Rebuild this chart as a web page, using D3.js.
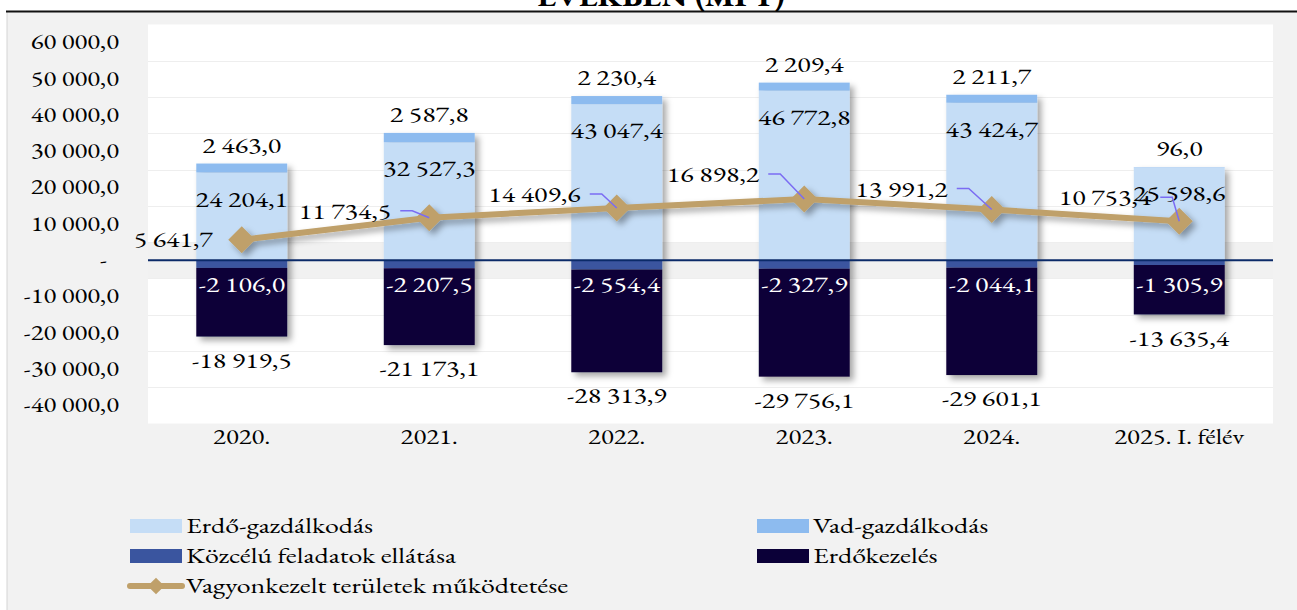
<!DOCTYPE html>
<html>
<head>
<meta charset="utf-8">
<script src="https://cdn.jsdelivr.net/npm/d3@7"></script>
</head>
<body style="margin:0; background:#fff">
<div id="chart"></div>
<script>
// chart data
const categories = ["2020.", "2021.", "2022.", "2023.", "2024.", "2025. I. félév"];
const erdoGazdalkodas = [24204.1, 32527.3, 43047.4, 46772.8, 43424.7, 25598.6];
const vadGazdalkodas = [2463.0, 2587.8, 2230.4, 2209.4, 2211.7, 96.0];
const kozceluFeladatok = [-2106.0, -2207.5, -2554.4, -2327.9, -2044.1, -1305.9];
const erdokezeles = [-18919.5, -21173.1, -28313.9, -29756.1, -29601.1, -13635.4];
const vagyonkezelt = [5641.7, 11734.5, 14409.6, 16898.2, 13991.2, 10753.4];
const yTickValues = [-40000, -30000, -20000, -10000, 0, 10000, 20000, 30000, 40000, 50000, 60000];

const seriesNames = ["Erdő-gazdálkodás", "Vad-gazdálkodás", "Közcélú feladatok ellátása", "Erdőkezelés"];
const lineName = "Vagyonkezelt területek működtetése";

// label nudges for the line labels (moved by hand in the original)
const lineLabelOffset = [[-29, 0], [-38, -6], [-36, -13], [-45, -24], [-44, -20], [-28, -23]];

const W = 1297, H = 610;
const FONT = '"EB Garamond", "Liberation Serif", serif';
const FS = 21;      // axis labels
const FS_LBL = 22;  // data labels + legend
const SX = 1.27;    // reference text is rendered wide
const colors = {
  "Erdő-gazdálkodás": "#c5ddf6",
  "Vad-gazdálkodás": "#8dbbef",
  "Közcélú feladatok ellátása": "#3a559f",
  "Erdőkezelés": "#0b0038"
};
const lineColor = "#bfa06a";
const leaderColor = "#7b6cf3";

const locale = d3.formatLocale({decimal: ",", thousands: "\u00a0", grouping: [3], currency: ["", ""], minus: "-"});
const fmt = locale.format(",.1f");

let svg = d3.select("#chart").append("svg")
  .attr("width", W).attr("height", H)
  .attr("font-family", FONT);

let defs = svg.append("defs");
let f = defs.append("filter").attr("id", "shadow")
  .attr("x", "-20%").attr("y", "-20%").attr("width", "150%").attr("height", "150%");
f.append("feDropShadow").attr("dx", 4).attr("dy", 4).attr("stdDeviation", 3)
  .attr("flood-color", "#000").attr("flood-opacity", 0.35);

// chart background + borders
svg.append("rect").attr("x", 7).attr("y", 11).attr("width", W - 7).attr("height", H - 11)
  .attr("fill", "#f2f2f2");
svg.append("line").attr("x1", 7).attr("x2", 7).attr("y1", 11).attr("y2", H)
  .attr("stroke", "#d4d4d4");
svg.append("line").attr("x1", 6).attr("x2", W).attr("y1", 11.5).attr("y2", 11.5)
  .attr("stroke", "#111").attr("stroke-width", 2);

// title (cut off at the top)
svg.append("text")
  .attr("transform", `translate(661,6) scale(1.2,1)`)
  .attr("text-anchor", "middle")
  .attr("font-family", FONT)
  .attr("font-size", 27).attr("font-weight", "bold")
  .text("ÉVEKBEN (MFT)");

// scales
const plot = {left: 148, right: 1273, top: 24.5, bottom: 423.5};
let x = d3.scaleBand()
  .domain(categories)
  .range([plot.left, plot.right])
  .paddingInner(0.515).paddingOuter(0.2575);
let y = d3.scaleLinear()
  .domain([-45000, 65000])
  .range([plot.bottom, plot.top]);

// plot area
svg.append("rect").attr("x", plot.left).attr("y", plot.top)
  .attr("width", plot.right - plot.left).attr("height", plot.bottom - plot.top)
  .attr("fill", "#fff");
svg.append("rect").attr("x", plot.left).attr("y", y(5000))
  .attr("width", plot.right - plot.left).attr("height", y(-5000) - y(5000))
  .attr("fill", "#f1f1f1");
svg.append("g").selectAll("line")
  .data(yTickValues.filter(v => v !== 0).map(v => v > 0 ? v - 5000 : v + 5000).concat([55000, -35000]))
  .join("line")
  .attr("x1", plot.left).attr("x2", plot.right)
  .attr("y1", d => Math.round(y(d)) + 0.5).attr("y2", d => Math.round(y(d)) + 0.5)
  .attr("stroke", "#eeeeee");

// y axis labels
let yAxis = svg.append("g")
  .attr("transform", "translate(119,0)")
  .call(d3.axisLeft(y).tickValues(yTickValues).tickSize(0)
    .tickFormat(d => d === 0 ? "-" : fmt(d)));
yAxis.select(".domain").remove();
yAxis.attr("font-family", FONT);
yAxis.selectAll("text")
  .attr("font-family", FONT)
  .attr("font-size", FS).attr("fill", "#000")
  .attr("x", 0).attr("dy", "0.32em")
  .attr("transform", d => `translate(${d === 0 ? -12 : 0},${y(d)}) scale(${SX},1)`);
yAxis.selectAll(".tick").attr("transform", null);

// x axis labels
let xAxis = svg.append("g")
  .attr("transform", "translate(0,437)")
  .call(d3.axisBottom(x).tickSize(0));
xAxis.select(".domain").remove();
xAxis.attr("font-family", FONT);
xAxis.selectAll("text")
  .attr("font-family", FONT)
  .attr("font-size", FS).attr("fill", "#000")
  .attr("y", 0).attr("dy", "0.32em")
  .attr("transform", `scale(${SX},1)`);

// stacked bars
const table = categories.map((c, i) => ({
  cat: c,
  "Erdő-gazdálkodás": erdoGazdalkodas[i],
  "Vad-gazdálkodás": vadGazdalkodas[i],
  "Közcélú feladatok ellátása": kozceluFeladatok[i],
  "Erdőkezelés": erdokezeles[i]
}));
let stack = d3.stack().keys(seriesNames).offset(d3.stackOffsetDiverging);
let layers = stack(table);

let barGroup = svg.append("g").attr("filter", "url(#shadow)");
barGroup.selectAll("g")
  .data(layers)
  .join("g")
  .attr("fill", d => colors[d.key])
  .selectAll("rect")
  .data(d => d)
  .join("rect")
  .attr("x", d => x(d.data.cat))
  .attr("width", x.bandwidth())
  .attr("y", d => y(Math.max(d[0], d[1])))
  .attr("height", d => Math.abs(y(d[0]) - y(d[1])));

// zero line
svg.append("line")
  .attr("x1", plot.left).attr("x2", plot.right)
  .attr("y1", y(0)).attr("y2", y(0))
  .attr("stroke", "#0b2a68").attr("stroke-width", 2);

// line series
let pts = categories.map((c, i) => [x(c) + x.bandwidth() / 2, y(vagyonkezelt[i])]);
let lineGroup = svg.append("g").attr("filter", "url(#shadow)");
lineGroup.append("path")
  .datum(pts)
  .attr("d", d3.line())
  .attr("fill", "none")
  .attr("stroke", lineColor).attr("stroke-width", 6);
lineGroup.selectAll("path.marker")
  .data(pts)
  .join("path").attr("class", "marker")
  .attr("d", d3.symbol(d3.symbolSquare, 365))
  .attr("transform", d => `translate(${d[0]},${d[1]}) rotate(45)`)
  .attr("fill", lineColor);

// data labels
function label(g, tx, ty, txt, color, anchor) {
  g.append("text")
    .attr("transform", `translate(${tx},${ty}) scale(${SX},1)`)
    .attr("dy", "0.32em")
    .attr("text-anchor", anchor || "middle")
    .attr("font-family", FONT)
    .attr("font-size", FS_LBL)
    .attr("fill", color || "#000")
    .text(txt);
}
let labels = svg.append("g");
categories.forEach((c, i) => {
  let cx = x(c) + x.bandwidth() / 2;
  let topPos = erdoGazdalkodas[i] + vadGazdalkodas[i];
  let bottomNeg = kozceluFeladatok[i] + erdokezeles[i];
  label(labels, cx, y(topPos) - 18, fmt(vadGazdalkodas[i]));
  label(labels, cx, y(erdoGazdalkodas[i]) + 27, fmt(erdoGazdalkodas[i]));
  label(labels, cx, y(0) + 25, fmt(kozceluFeladatok[i]), "#fff");
  label(labels, cx, y(bottomNeg) + 24, fmt(erdokezeles[i]));
});

// line labels with leader lines
pts.forEach((p, i) => {
  let [dx, dy] = lineLabelOffset[i];
  let lx = p[0] + dx, ly = p[1] + dy;
  label(labels, lx, ly, fmt(vagyonkezelt[i]), "#000", "end");
  if (i > 0) {
    let ky = ly - 1;
    labels.append("path")
      .attr("d", d3.line()([[lx + 9, ky], [lx + 21, ky], [p[0], p[1]]]))
      .attr("fill", "none")
      .attr("stroke", leaderColor).attr("stroke-width", 1.5);
  }
});

// legend
const legendItems = [
  {name: seriesNames[0], x: 130, y: 526},
  {name: seriesNames[1], x: 757, y: 526},
  {name: seriesNames[2], x: 130, y: 556},
  {name: seriesNames[3], x: 757, y: 556}
];
let legend = svg.append("g");
legend.selectAll("rect")
  .data(legendItems)
  .join("rect")
  .attr("x", d => d.x).attr("y", d => d.y - 7)
  .attr("width", 52).attr("height", 14)
  .attr("fill", d => colors[d.name]);
legendItems.forEach(d => {
  label(legend, d.x + 56, d.y, d.name, "#000", "start");
});
legend.append("line")
  .attr("x1", 130).attr("x2", 182).attr("y1", 586).attr("y2", 586)
  .attr("stroke", lineColor).attr("stroke-width", 6).attr("stroke-linecap", "round");
legend.append("path")
  .attr("d", d3.symbol(d3.symbolSquare, 140))
  .attr("transform", "translate(156,586) rotate(45)")
  .attr("fill", lineColor);
label(legend, 186, 586, lineName, "#000", "start");
</script>
</body>
</html>
